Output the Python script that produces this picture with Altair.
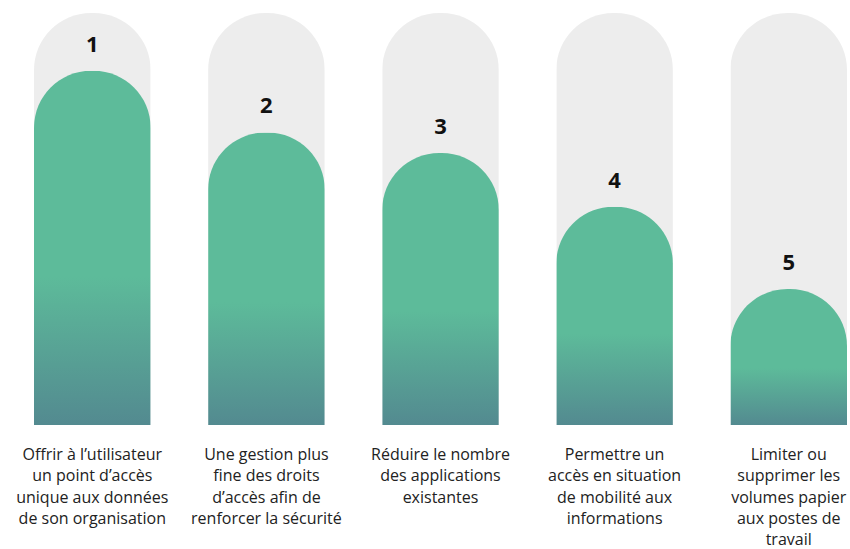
import altair as alt
import pandas as pd

ranks = ["1", "2", "3", "4", "5"]
values = [86, 71, 66, 53, 33]
full = [100, 100, 100, 100, 100]
labels = [
    "Offrir à l’utilisateur\nun point d’accès\nunique aux données\nde son organisation",
    "Une gestion plus\nfine des droits\nd’accès afin de\nrenforcer la sécurité",
    "Réduire le nombre\ndes applications\nexistantes",
    "Permettre un\naccès en situation\nde mobilité aux\ninformations",
    "Limiter ou\nsupprimer les\nvolumes papier\naux postes de\ntravail",
]

df = pd.DataFrame({"rank": ranks, "value": values, "full": full, "label": labels})

xenc = alt.X("rank:N", axis=None, sort=ranks,
             scale=alt.Scale(paddingInner=0.33, paddingOuter=0))
yscale = alt.Scale(domain=[0, 100], nice=False, zero=True)

base = alt.Chart(df)

bg = base.mark_bar(color="#ededed", cornerRadiusTopLeft=57, cornerRadiusTopRight=57).encode(
    x=xenc, y=alt.Y("full:Q", axis=None, scale=yscale)
)

grad = alt.Gradient(
    gradient="linear",
    stops=[
        alt.GradientStop(color="#5dbb9a", offset=0),
        alt.GradientStop(color="#5dbb9a", offset=0.58),
        alt.GradientStop(color="#538a90", offset=1),
    ],
    x1=0, x2=0, y1=0, y2=1,
)

fg = base.mark_bar(color=grad, cornerRadiusTopLeft=57, cornerRadiusTopRight=57).encode(
    x=xenc, y=alt.Y("value:Q", axis=None, scale=yscale)
)

nums = base.mark_text(font="Open Sans", fontSize=22, fontWeight="bold", color="#111111",
                      baseline="middle", dy=-26).encode(
    x=xenc, y=alt.Y("value:Q", axis=None, scale=yscale), text="rank:N"
)

labs = base.mark_text(font="Open Sans", fontSize=16, color="#222222", lineBreak="\n",
                      lineHeight=21.3, baseline="top", dy=22).encode(
    x=xenc, y=alt.datum(0), text="label:N"
)

chart = alt.layer(bg, fg, nums, labs).properties(
    width=813, height=412,
    padding={"left": 34, "top": 13, "right": 3, "bottom": 124},
    autosize=alt.AutoSizeParams(type="none"),
).configure_view(stroke=None)

chart.save("out.html", embed_options={"renderer": "svg", "actions": False})
